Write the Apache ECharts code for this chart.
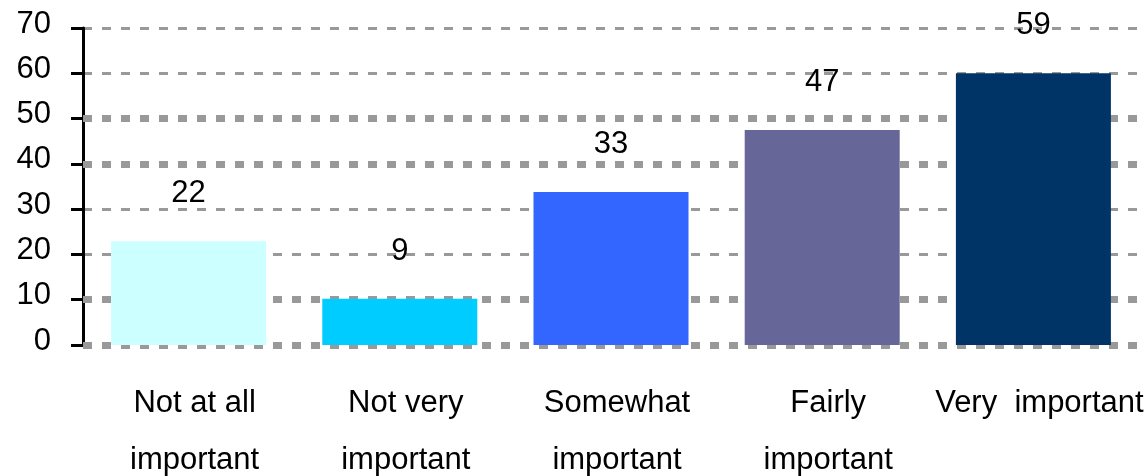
<!DOCTYPE html>
<html>
<head>
<meta charset="utf-8">
<script src="https://cdn.jsdelivr.net/npm/echarts@6/dist/echarts.min.js"></script>
<style>
  html, body { margin: 0; padding: 0; background: #ffffff; }
  #chart { width: 1147px; height: 476px; }
</style>
</head>
<body>
<div id="chart"></div>
<script>
const categories = ['Not at all\nimportant', 'Not very\nimportant', 'Somewhat\nimportant', 'Fairly\nimportant', 'Very  important'];
const barValues = [22.9, 10.2, 33.8, 47.5, 60.0];
const barLabels = ['22', '9', '33', '47', '59'];
const barColors = ['#CCFFFF', '#00CCFF', '#3366FF', '#666699', '#003366'];
const yTicks = [0, 10, 20, 30, 40, 50, 60, 70];
const heavyGridValues = [0, 10, 40, 50];

const FONT = '"Liberation Sans", Arial, sans-serif';
const chart = echarts.init(document.getElementById('chart'), null, { renderer: 'canvas' });

chart.setOption({
  animation: false,
  backgroundColor: '#ffffff',
  grid: { left: 83, right: 8, top: 28, bottom: 131, containLabel: false, outerBoundsMode: 'none' },
  xAxis: {
    type: 'category',
    data: categories,
    axisLine: { show: false },
    axisTick: { show: false },
    splitLine: { show: false },
    axisLabel: {
      interval: 0,
      margin: 30,
      fontFamily: FONT,
      fontSize: 31,
      lineHeight: 57,
      color: '#000000',
      padding: [0, 0, 0, 12]
    }
  },
  yAxis: {
    type: 'value',
    min: yTicks[0],
    max: yTicks[yTicks.length - 1],
    interval: 10,
    axisLine: { show: true, lineStyle: { color: '#000000', width: 3 } },
    axisTick: { show: true, length: 12, lineStyle: { color: '#000000', width: 3 } },
    splitLine: { show: true, lineStyle: { color: '#999999', width: 3, type: [9, 10] } },
    axisLabel: {
      margin: 32,
      fontFamily: FONT,
      fontSize: 31,
      lineHeight: 8,
      verticalAlign: 'bottom',
      color: '#000000'
    }
  },
  series: [
    {
      type: 'line',
      data: [],
      z: 1,
      silent: true,
      markLine: {
        silent: true,
        z: 1,
        symbol: ['none', 'none'],
        label: { show: false },
        lineStyle: { color: '#999999', width: 7, type: [9, 10] },
        data: heavyGridValues.map(v => ({ yAxis: v }))
      }
    },
    {
      type: 'bar',
      z: 3,
      barWidth: 155,
      data: barValues.map((v, i) => ({ value: v, itemStyle: { color: barColors[i] } })),
      label: {
        show: true,
        position: 'top',
        distance: 32,
        fontFamily: FONT,
        fontSize: 31,
        color: '#000000',
        formatter: p => barLabels[p.dataIndex]
      }
    }
  ]
});
</script>
</body>
</html>
